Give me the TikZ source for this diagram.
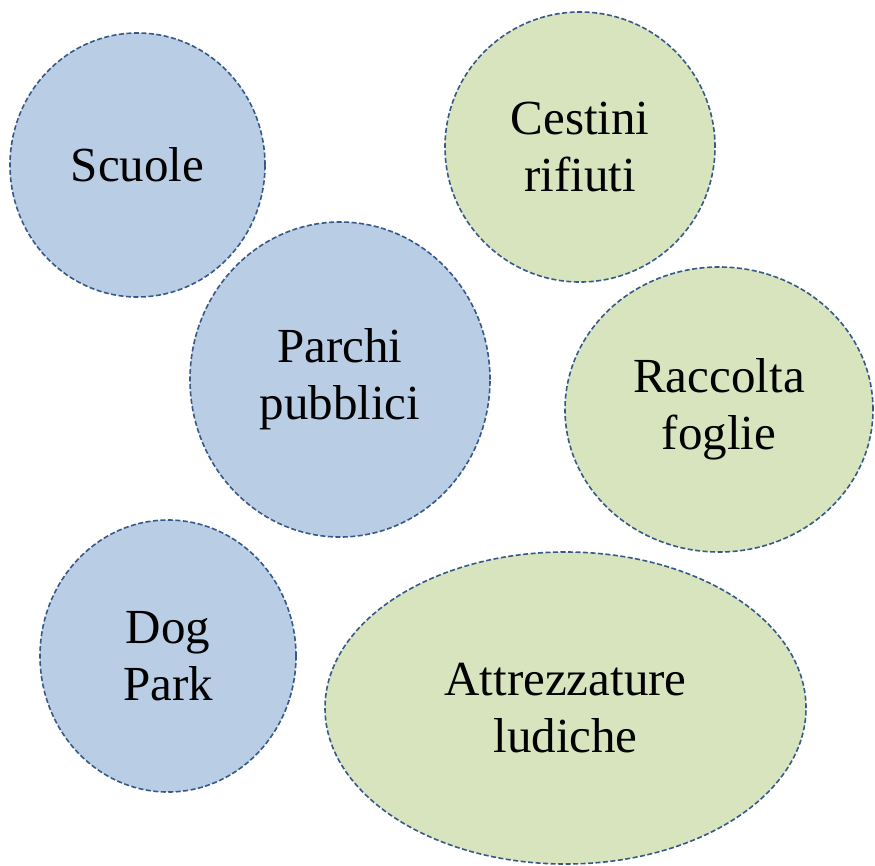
\documentclass[tikz,border=0pt]{standalone}
\usepackage{fontspec}
\setmainfont{Liberation Serif}
\usetikzlibrary{shapes.geometric}
\definecolor{bluefill}{HTML}{B9CDE5}
\definecolor{greenfill}{HTML}{D7E4BD}
\definecolor{edgeblue}{HTML}{36598A}
\tikzset{
  bubble/.style={ellipse, draw=edgeblue, line width=1.6pt, dash pattern=on 5pt off 2.5pt,
    align=center, inner sep=0pt, font=\fontsize{49}{57}\selectfont},
  bluebubble/.style={bubble, fill=bluefill},
  greenbubble/.style={bubble, fill=greenfill}
}
\begin{document}
\begin{tikzpicture}[x=1pt,y=-1pt]
\useasboundingbox (0,0) rectangle (875,865);
\node[bluebubble, minimum width=255pt, minimum height=264pt] (scuole) at (137.5,165) {Scuole};
\node[bluebubble, minimum width=300pt, minimum height=315pt] (parchi) at (340,379.5) {Parchi\\pubblici};
\node[bluebubble, minimum width=256pt, minimum height=272pt] (dog) at (168,656) {Dog\\Park};
\node[greenbubble, minimum width=270pt, minimum height=270pt] (cestini) at (580,147) {Cestini\\rifiuti};
\node[greenbubble, minimum width=308pt, minimum height=285pt] (raccolta) at (719,409.5) {Raccolta\\foglie};
\node[greenbubble, minimum width=481pt, minimum height=312pt] (attrezz) at (565.5,708) {Attrezzature\\ludiche};
\end{tikzpicture}
\end{document}
